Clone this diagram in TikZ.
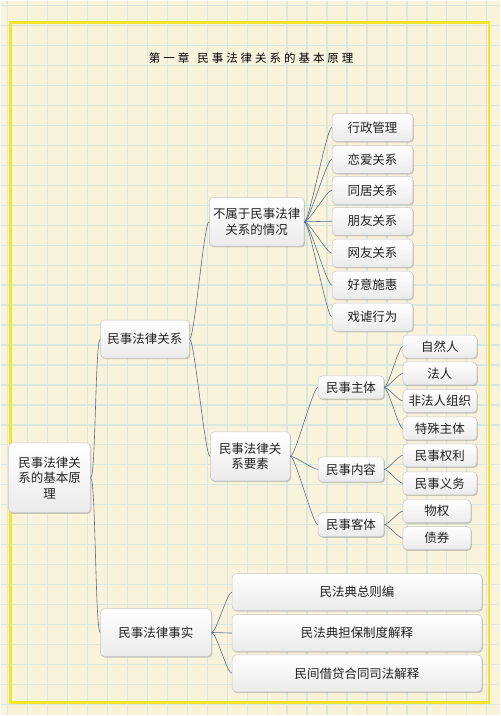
\documentclass[tikz,border=0pt]{standalone}
\usepackage{fontspec}
\setmainfont{Noto Sans CJK SC}
\newfontfamily\titlefont[LetterSpace=26]{Noto Sans CJK SC}
\usetikzlibrary{shadows}
\definecolor{paper}{HTML}{FAF3DC}
\definecolor{gridc}{HTML}{D8E8DE}
\definecolor{frame}{HTML}{F6E42A}
\definecolor{linec}{HTML}{54708F}
\definecolor{textc}{HTML}{222222}
\tikzset{
  box/.style={draw=gray!45, line width=0.5pt, rounded corners=4pt,
    top color=white, bottom color=gray!16, inner sep=0pt, align=center,
    text=textc, font=\fontsize{12.5}{15.5}\selectfont,
    drop shadow={shadow xshift=1pt, shadow yshift=-1.2pt, fill=black!45, opacity=.45}},
  link/.style={draw=linec, line width=0.6pt},
}
\begin{document}
\begin{tikzpicture}[x=1pt,y=-1pt]
% paper and grid
\fill[paper] (0,0) rectangle (500,716);
\foreach \i in {0,...,24} \draw[gridc, line width=1.3pt] (7+20*\i,0) -- (7+20*\i,716);
\foreach \j in {0,...,35} \draw[gridc, line width=1.3pt] (0,5+20*\j) -- (500,5+20*\j);
\draw[frame, line width=2.5pt] (10,22) rectangle (489,703);
\node[text=black] (title) at (251,58) {\titlefont\fontsize{11.5}{14}\selectfont 第一章\hspace{8pt}民事法律关系的基本原理};

% main nodes
\node[box, minimum width=82pt, minimum height=70pt] (root) at (49,478) {民事法律关\\系的基本原\\理};
\node[box, minimum width=89pt, minimum height=38pt] (rel) at (144.5,339) {民事法律关系};
\node[box, minimum width=111pt, minimum height=48pt] (fact) at (155.5,633) {民事法律事实};
\node[box, minimum width=95pt, minimum height=49pt] (nrel) at (256.5,221.5) {不属于民事法律\\关系的情况};
\node[box, minimum width=80pt, minimum height=49pt] (elem) at (250,456.5) {民事法律关\\系要素};

% not civil relations
\foreach \n/\y/\t in {xz/127/行政管理, la/159/恋爱关系, tj/190/同居关系, py/221/朋友关系,
                      wy/253/网友关系, hy/285/好意施惠, xn/317/戏谑行为}
  \node[box, minimum width=81pt, minimum height=28pt] (\n) at (372.5,\y) {\t};

% elements
\node[box, minimum width=66pt, minimum height=23pt] (subj) at (351,387.5) {民事主体};
\node[box, minimum width=66pt, minimum height=25pt] (cont) at (351,469.5) {民事内容};
\node[box, minimum width=66pt, minimum height=24pt] (obj) at (351,525) {民事客体};
\foreach \n/\y/\t in {zr/346.5/自然人, fr/373.5/法人, ff/401/非法人组织, ts/428.5/特殊主体,
                      ql/455.5/民事权利, yw/483.5/民事义务}
  \node[box, minimum width=74pt, minimum height=23pt] (\n) at (440,\y) {\t};
\node[box, minimum width=68pt, minimum height=23pt] (wq) at (437,511.5) {物权};
\node[box, minimum width=68pt, minimum height=23pt] (zq) at (437,538.5) {债券};

% legal facts
\node[box, minimum width=250pt, minimum height=37pt] (zz) at (357,592.5) {民法典总则编};
\node[box, minimum width=250pt, minimum height=37pt] (db) at (357,633.5) {民法典担保制度解释};
\node[box, minimum width=250pt, minimum height=37pt] (jd) at (357,674) {民间借贷合同司法解释};

% connectors
\foreach \c in {rel,fact} \draw[link] (root.east) .. controls +(5,0) and +(-5,0) .. (\c.west);
\foreach \c in {nrel,elem} \draw[link] (rel.east) .. controls +(5,0) and +(-5,0) .. (\c.west);
\foreach \c in {xz,la,tj,py,wy,hy,xn} \draw[link] (nrel.east) .. controls +(5,0) and +(-5,0) .. (\c.west);
\foreach \c in {subj,cont,obj} \draw[link] (elem.east) .. controls +(5,0) and +(-5,0) .. (\c.west);
\foreach \c in {zr,fr,ff,ts} \draw[link] (subj.east) .. controls +(4,0) and +(-4,0) .. (\c.west);
\foreach \c in {ql,yw} \draw[link] (cont.east) .. controls +(4,0) and +(-4,0) .. (\c.west);
\foreach \c in {wq,zq} \draw[link] (obj.east) .. controls +(4,0) and +(-4,0) .. (\c.west);
\foreach \c in {zz,db,jd} \draw[link] (fact.east) .. controls +(5,0) and +(-5,0) .. (\c.west);
\end{tikzpicture}
\end{document}
